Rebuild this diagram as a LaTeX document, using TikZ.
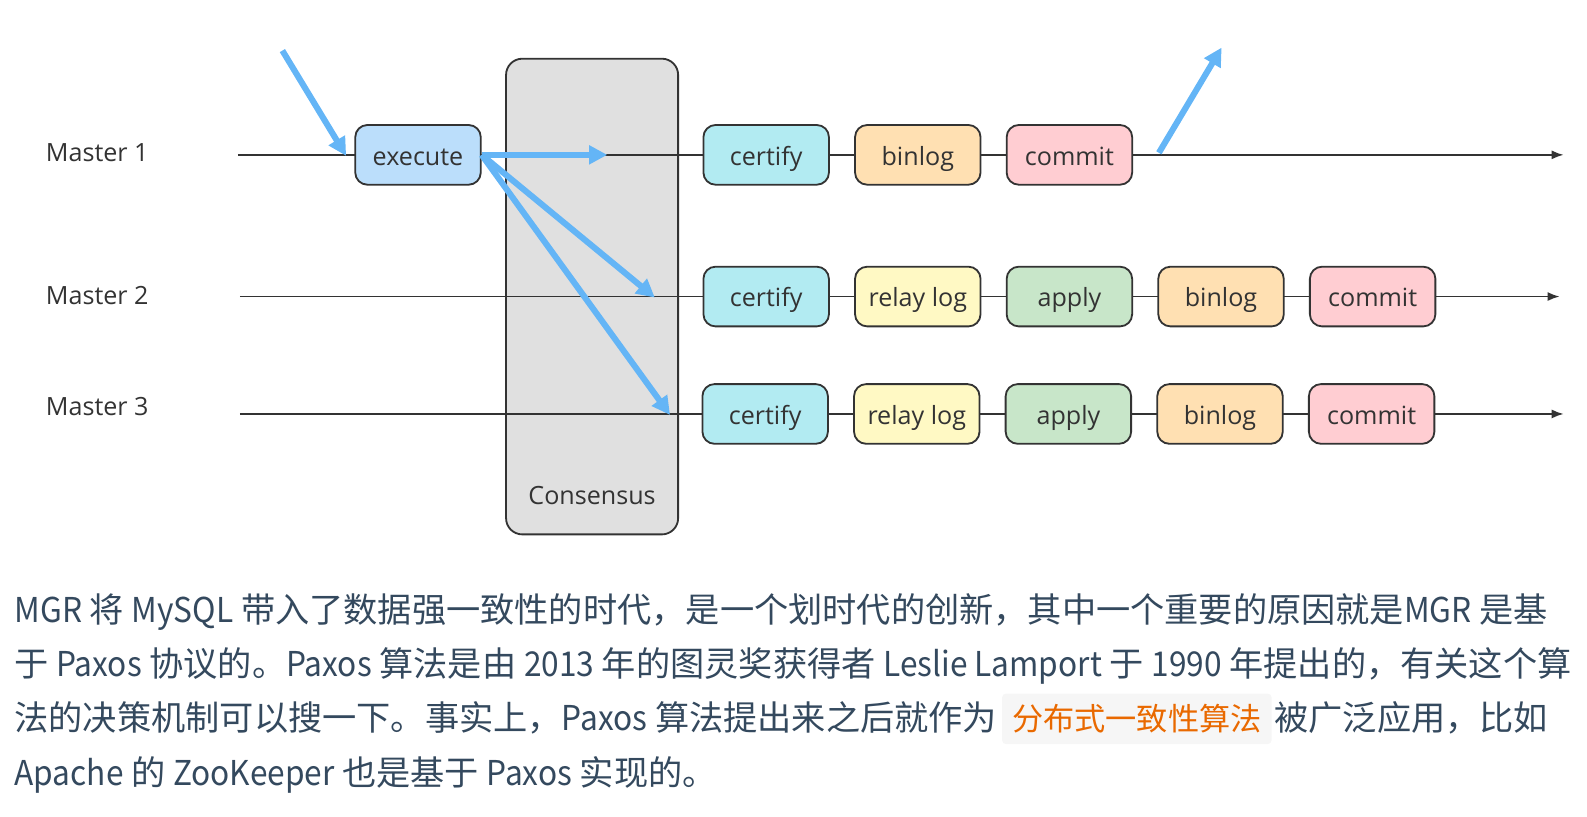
\documentclass[tikz,border=0pt]{standalone}
\usepackage{fontspec}
\setmainfont{Open Sans}
\newfontfamily\cjk{Noto Sans CJK SC}
\newfontfamily\lat[FakeStretch=0.925]{Noto Sans CJK SC}
\usetikzlibrary{arrows.meta, positioning}
\definecolor{linegray}{HTML}{333333}
\definecolor{execfill}{HTML}{BBDEFB}
\definecolor{certfill}{HTML}{B2EBF2}
\definecolor{binfill}{HTML}{FFE0B2}
\definecolor{commitfill}{HTML}{FFCDD2}
\definecolor{relayfill}{HTML}{FFF9C4}
\definecolor{applyfill}{HTML}{C8E6C9}
\definecolor{consfill}{HTML}{E0E0E0}
\definecolor{flowblue}{HTML}{64B5F6}
\definecolor{bodyslate}{HTML}{34495E}
\definecolor{hlorange}{HTML}{E96900}
\definecolor{hlgray}{HTML}{F6F6F6}
\tikzstyle{block} = [draw=linegray, line width=0.9pt, rectangle, rounded corners=6pt, minimum width=62pt, minimum height=29.5pt, inner sep=0pt, text height=12.2pt, text depth=2pt, font=\fontsize{12.4}{15}\selectfont, text=linegray]
\tikzstyle{execbox} = [block, fill=execfill]
\tikzstyle{certbox} = [block, fill=certfill]
\tikzstyle{binbox} = [block, fill=binfill]
\tikzstyle{commitbox} = [block, fill=commitfill]
\tikzstyle{relaybox} = [block, fill=relayfill]
\tikzstyle{applybox} = [block, fill=applyfill]
\tikzstyle{label} = [font=\fontsize{12.4}{15}\selectfont, text=linegray, inner sep=0pt]
\tikzstyle{timeline} = [draw=linegray, line width=0.9pt, -{Latex[length=6pt, width=4.5pt]}]
\tikzstyle{flow} = [draw=flowblue, line width=3pt, -{Triangle[length=9pt, width=9pt]}]
\tikzstyle{para} = [anchor=base west, inner sep=0pt, font=\cjk\fontsize{16.9}{20}\selectfont, text=bodyslate]
\tikzstyle{hilite} = [inner xsep=5pt, inner ysep=0pt, minimum height=25pt, fill=hlgray, rounded corners=2pt, font=\cjk\fontsize{15.4}{20}\selectfont, text=hlorange]

\begin{document}
\begin{tikzpicture}[x=0.5pt, y=-0.5pt, node distance=12pt]
    \useasboundingbox (0,0) rectangle (1568,807);

    % Consensus stage.
    \node (consensus) [draw=linegray, line width=0.9pt, fill=consfill, rounded corners=8pt, minimum width=85pt, minimum height=235pt] at (585,293) {};
    \node (conslabel) [label] at (585,490) {Consensus};

    % Time lines.
    \coordinate (m1 start) at (235,153);
    \coordinate (m1 end) at (1545,153);
    \coordinate (m2 start) at (237,293);
    \coordinate (m2 end) at (1541,293);
    \coordinate (m3 start) at (237,409);
    \coordinate (m3 end) at (1545,409);
    \draw [timeline] (m1 start) -- (m1 end);
    \draw [timeline] (m2 start) -- (m2 end);
    \draw [timeline] (m3 start) -- (m3 end);

    \node (master1) [label, anchor=west] at (45,151) {Master 1};
    \node (master2) [label, anchor=west] at (45,292) {Master 2};
    \node (master3) [label, anchor=west] at (45,402) {Master 3};

    % Master 1.
    \node (exec) [execbox] at (413,153) {execute};
    \node (cert1) [certbox] at (757,153) {certify};
    \node (bin1) [binbox, right=of cert1] {binlog};
    \node (commit1) [commitbox, right=of bin1] {commit};

    % Master 2.
    \node (cert2) [certbox] at (757,293) {certify};
    \node (relay2) [relaybox, right=of cert2] {relay log};
    \node (apply2) [applybox, right=of relay2] {apply};
    \node (bin2) [binbox, right=of apply2] {binlog};
    \node (commit2) [commitbox, right=of bin2] {commit};

    % Master 3.
    \node (cert3) [certbox] at (756,409) {certify};
    \node (relay3) [relaybox, right=of cert3] {relay log};
    \node (apply3) [applybox, right=of relay3] {apply};
    \node (bin3) [binbox, right=of apply3] {binlog};
    \node (commit3) [commitbox, right=of bin3] {commit};

    % Transaction flow.
    \coordinate (in tail) at (279,50);
    \coordinate (in tip) at (342,154);
    \coordinate (to m1) at (600,153);
    \coordinate (to m2) at (647,294);
    \coordinate (to m3) at (662,410);
    \coordinate (out tail) at (1145,151);
    \coordinate (out tip) at (1207,47);
    \draw [flow] (in tail) -- (in tip);
    \draw [flow] (exec.east) -- (to m1);
    \draw [flow] (exec.east) -- (to m2);
    \draw [flow] (exec.east) -- (to m3);
    \draw [flow] (out tail) -- (out tip);

    % Text below.
    \node (line1) [para] at (14,615) {{\lat MGR} 将 {\lat MySQL} 带入了数据强一致性的时代，是一个划时代的创新，其中一个重要的原因就是{\lat MGR} 是基};
    \node (line2) [para] at (14,668) {于 {\lat Paxos} 协议的。{\lat Paxos} 算法是由 {\lat 2013} 年的图灵奖获得者 {\lat Leslie Lamport} 于 {\lat 1990} 年提出的，有关这个算};
    \node (line3) [para] at (14,722) {法的决策机制可以搜一下。事实上，{\lat Paxos} 算法提出来之后就作为};
    \node (highlight) [hilite, anchor=base west] at ([xshift=2pt]line3.base east) {分布式一致性算法};
    \node (line3 end) [para] at ([xshift=1pt]highlight.base east) {被广泛应用，比如};
    \node (line4) [para] at (14,776) {{\lat Apache} 的 {\lat ZooKeeper} 也是基于 {\lat Paxos} 实现的。};
\end{tikzpicture}
\end{document}
